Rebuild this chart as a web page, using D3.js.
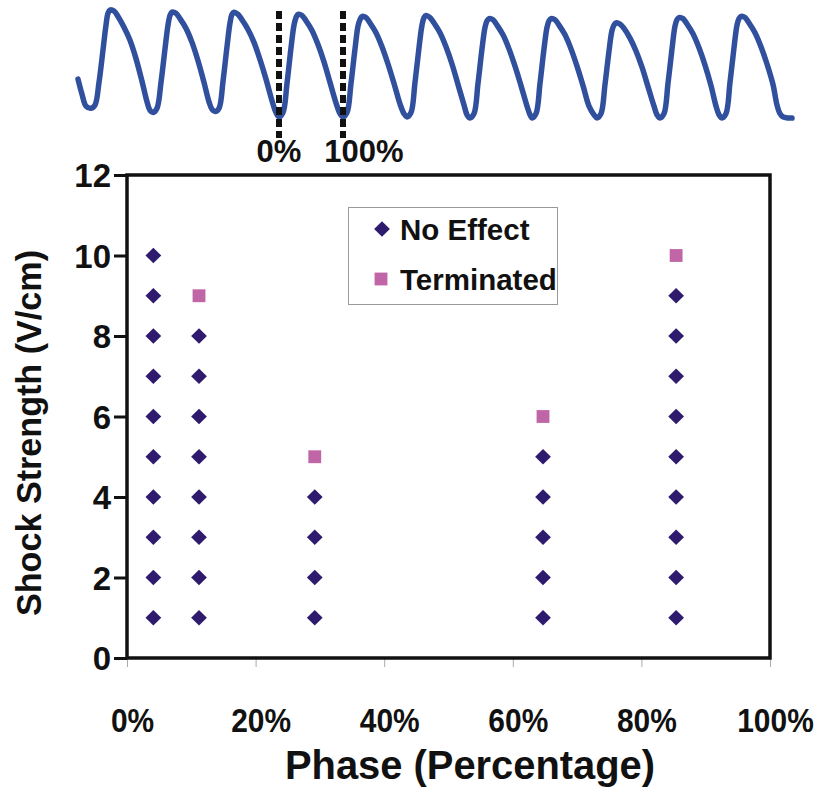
<!DOCTYPE html>
<html><head><meta charset="utf-8">
<script src="https://cdn.jsdelivr.net/npm/d3@7"></script>
<style>html,body{margin:0;padding:0;background:#fff;} svg{display:block;}</style>
</head><body>
<svg id="chart" width="833" height="791"></svg>
<script>
// ---- data ----
const xTicks = [0, 0.2, 0.4, 0.6, 0.8, 1.0];
const yTicks = [0, 2, 4, 6, 8, 10, 12];
const seriesNames = ["No Effect", "Terminated"];
const noEffectPhase = [0.041,0.041,0.041,0.041,0.041,0.041,0.041,0.041,0.041,0.041,
  0.112,0.112,0.112,0.112,0.112,0.112,0.112,0.112,
  0.292,0.292,0.292,0.292,
  0.647,0.647,0.647,0.647,0.647,
  0.854,0.854,0.854,0.854,0.854,0.854,0.854,0.854,0.854];
const noEffectStrength = [1,2,3,4,5,6,7,8,9,10,
  1,2,3,4,5,6,7,8,
  1,2,3,4,
  1,2,3,4,5,
  1,2,3,4,5,6,7,8,9];
const terminatedPhase = [0.112, 0.292, 0.647, 0.854];
const terminatedStrength = [9, 5, 6, 10];
// top trace: [time, amplitude]
const trace = [[0,36],[4,22],[8,11],[13,9],
 [17,12],[21,33],[25,63],[28,86],[30,97],[32,100],[36,99],[40,94],[46,84],[52,72],[58,55],[64,34],[69,15],[72,7],[75,5],
 [79,9],[83,33],[87,64],[90,86],[92,95],[94,98],[98,97],[102,92],[108,83],[114,70],[120,53],[126,33],[131,15],[134,8],[137,6],
 [141,9],[145,34],[149,66],[152,88],[154,96],[156,98],[160,96],[164,91],[170,82],[176,70],[182,54],[188,36],[194,16],[198,5],[201,1],
 [205,5],[209,32],[213,65],[216,86],[218,93],[220,96],[224,95],[228,90],[234,81],[240,68],[246,52],[252,33],[258,14],[262,4],[265,1],
 [269,5],[273,32],[277,64],[280,85],[282,91],[284,94],[288,93],[292,88],[298,79],[304,66],[310,50],[316,32],[322,13],[326,4],[329,1],
 [333,5],[337,33],[341,65],[344,86],[346,93],[348,95],[352,93],[356,88],[362,79],[368,66],[374,50],[380,31],[386,12],[389,3],[392,0],
 [396,4],[400,32],[404,64],[407,84],[409,90],[411,92],[415,91],[419,86],[425,77],[431,64],[437,48],[443,30],[449,11],[452,3],[454,0],
 [458,4],[462,32],[466,64],[469,84],[471,90],[473,92],[477,91],[481,86],[487,77],[493,64],[499,48],[505,30],[511,11],[516,3],[519,0],
 [523,4],[527,31],[531,62],[534,81],[536,86],[538,88],[542,87],[546,83],[552,74],[558,62],[564,47],[570,29],[576,11],[579,3],[582,0],
 [586,4],[590,32],[594,64],[597,85],[599,91],[601,93],[605,92],[609,87],[615,78],[621,65],[627,49],[633,30],[638,11],[641,3],[644,0],
 [648,4],[652,33],[656,65],[659,86],[661,92],[663,94],[667,93],[671,88],[677,79],[683,66],[689,50],[695,31],[699,12],[702,4],[705,1],[710,0],[714,0]];
const phaseMarks = [201, 265];       // trace times of the 0% / 100% troughs
const phaseMarkLabels = ["0%", "100%"];

// ---- drawing ----
const svg = d3.select("#chart");
const FONT = "'Liberation Sans', Arial, Helvetica, sans-serif";
const x = d3.scaleLinear().domain([0, 1]).range([127, 770]);
const y = d3.scaleLinear().domain([0, 12]).range([658, 175]);
const tx = d3.scaleLinear().domain([0, 714]).range([78, 792]);
const ty = d3.scaleLinear().domain([0, 100]).range([118, 10]);

function condense(sel, k) {
  sel.each(function () {
    const w = this.getComputedTextLength();
    d3.select(this).attr("textLength", w * k).attr("lengthAdjust", "spacingAndGlyphs");
  });
}

// trace
svg.append("path").datum(trace)
  .attr("d", d3.line().x(d => tx(d[0])).y(d => ty(d[1])).curve(d3.curveCatmullRom))
  .attr("fill", "none").attr("stroke", "#30509e").attr("stroke-width", 5.5)
  .attr("stroke-linejoin", "round").attr("stroke-linecap", "round");

// phase marks
const pm = svg.append("g");
pm.selectAll("line").data(phaseMarks).join("line")
  .attr("x1", d => tx(d)).attr("x2", d => tx(d)).attr("y1", 11).attr("y2", 138)
  .attr("stroke", "#111").attr("stroke-width", 6).attr("stroke-dasharray", "8,4");
pm.selectAll("text").data(phaseMarks).join("text")
  .attr("x", (d, i) => tx(d) + (i === 1 ? 21 : 0)).attr("y", 162)
  .attr("text-anchor", "middle").attr("font-family", FONT).attr("font-weight", "bold")
  .attr("font-size", 31).attr("fill", "#111").text((d, i) => phaseMarkLabels[i]);

// x axis
const gx = svg.append("g").attr("transform", "translate(0,658)")
  .call(d3.axisBottom(x).tickValues(xTicks).tickSize(9).tickPadding(0).tickFormat(d3.format(".0%")));
gx.select(".domain").remove();
gx.selectAll(".tick line").attr("stroke", "#aaa").attr("stroke-width", 1);
gx.selectAll(".tick text").attr("font-family", FONT).attr("font-weight", "bold")
  .attr("font-size", 34).attr("fill", "#111").attr("dy", 0).attr("y", 74).attr("dx", 5)
  .call(condense, 0.88);

// y axis
const gy = svg.append("g").attr("transform", "translate(127,0)")
  .call(d3.axisLeft(y).tickValues(yTicks).tickSize(13).tickPadding(3));
gy.select(".domain").remove();
gy.selectAll(".tick line").attr("stroke", "#111").attr("stroke-width", 3);
gy.selectAll(".tick text").attr("font-family", FONT).attr("font-weight", "bold")
  .attr("font-size", 33).attr("fill", "#111").attr("dy", "0.36em");

// plot frame
svg.append("rect").attr("x", x(0)).attr("y", y(12))
  .attr("width", x(1) - x(0)).attr("height", y(0) - y(12))
  .attr("fill", "none").attr("stroke", "#111").attr("stroke-width", 3.5);

// markers
const diamond = d3.symbol().type(d3.symbolSquare).size(124);
const square = d3.symbol().type(d3.symbolSquare).size(165);
svg.append("g").selectAll("path").data(noEffectPhase).join("path")
  .attr("d", diamond)
  .attr("transform", (d, i) => `translate(${x(d)},${y(noEffectStrength[i])}) rotate(45)`)
  .attr("fill", "#2e1b6e");
svg.append("g").selectAll("path").data(terminatedPhase).join("path")
  .attr("d", square)
  .attr("transform", (d, i) => `translate(${x(d)},${y(terminatedStrength[i])})`)
  .attr("fill", "#c066a6");

// legend
const lg = svg.append("g");
lg.append("rect").attr("x", 348.5).attr("y", 207.5).attr("width", 209).attr("height", 97)
  .attr("fill", "#fff").attr("stroke", "#999").attr("stroke-width", 1);
lg.append("path").attr("d", diamond).attr("transform", "translate(382,229) rotate(45)").attr("fill", "#2e1b6e");
lg.append("path").attr("d", square).attr("transform", "translate(381,279)").attr("fill", "#c066a6");
lg.selectAll("text").data(seriesNames).join("text")
  .attr("x", 400).attr("y", (d, i) => 240 + i * 50)
  .attr("font-family", FONT).attr("font-weight", "bold").attr("font-size", 29.5).attr("fill", "#111")
  .text(d => d);

// axis titles
svg.append("text").attr("x", 470).attr("y", 779).attr("text-anchor", "middle")
  .attr("font-family", FONT).attr("font-weight", "bold").attr("font-size", 41).attr("fill", "#111")
  .text("Phase (Percentage)").attr("textLength", 370).attr("lengthAdjust", "spacingAndGlyphs");
svg.append("text").attr("transform", "translate(41,433) rotate(-90)").attr("text-anchor", "middle")
  .attr("font-family", FONT).attr("font-weight", "bold").attr("font-size", 35).attr("fill", "#111")
  .text("Shock Strength (V/cm)").attr("textLength", 366).attr("lengthAdjust", "spacingAndGlyphs");
</script>
</body></html>
